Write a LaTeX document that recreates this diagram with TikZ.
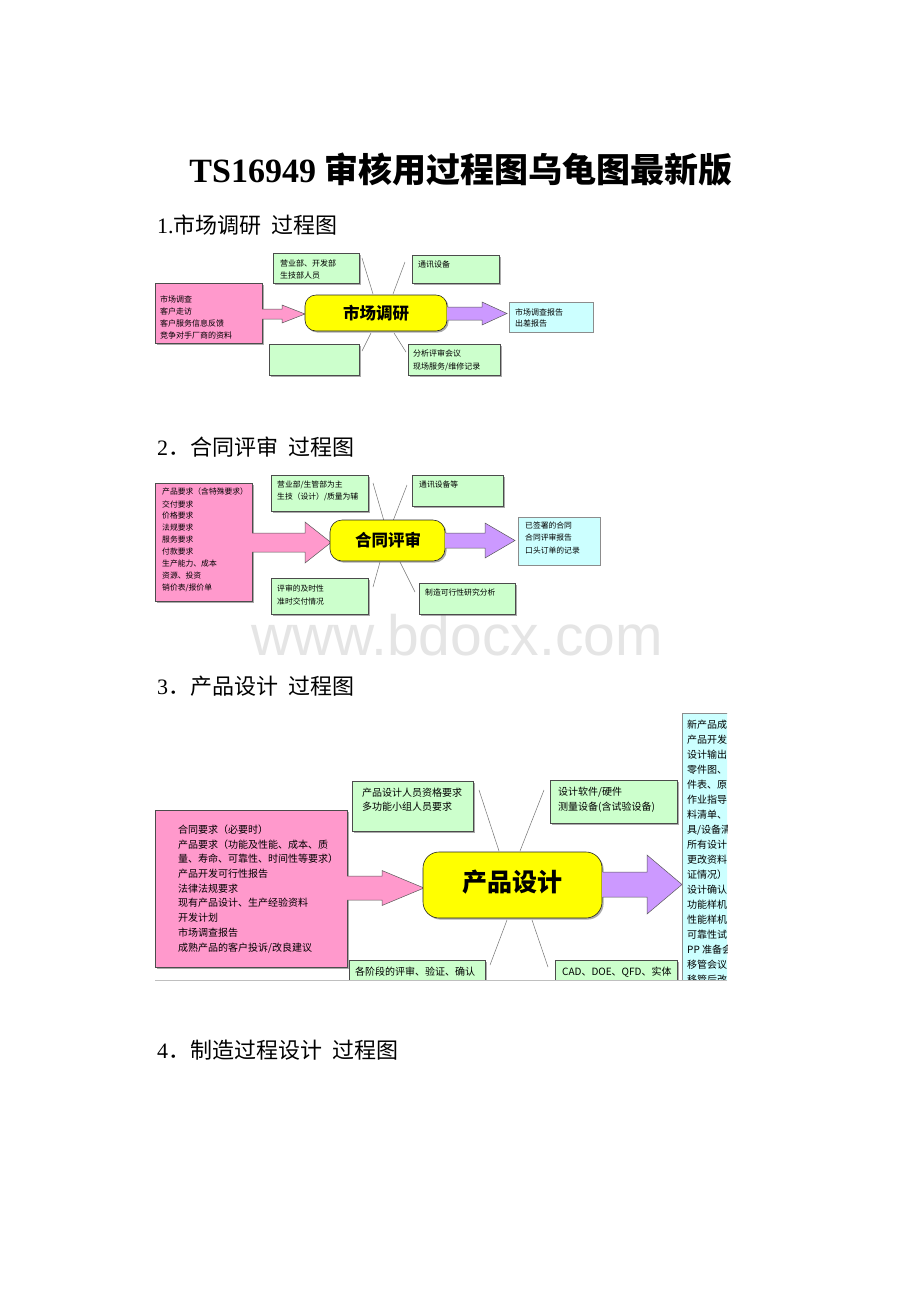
\documentclass[tikz,border=0pt]{standalone}
\usepackage{fontspec}
\setmainfont{Liberation Serif}
\newfontfamily\cjk{Noto Sans CJK SC}
\newfontfamily\wmfont{Liberation Sans}
\usetikzlibrary{shadows}
\definecolor{pinkf}{HTML}{FF99CC}
\definecolor{greenf}{HTML}{CCFFCC}
\definecolor{cyanf}{HTML}{CCFFFF}
\definecolor{yellowf}{HTML}{FFFF00}
\definecolor{purplef}{HTML}{CC99FF}
\tikzset{
  box/.style={anchor=north west, inner sep=0pt, outer sep=0pt},
  shad/.style={drop shadow={shadow xshift=1.6pt, shadow yshift=-1.6pt, fill=black!65}},
  gbox/.style={box, draw=black!70, line width=0.5pt, fill=greenf, shad},
  pbox/.style={box, draw=black!70, line width=0.5pt, fill=pinkf, shad},
  cbox/.style={box, draw=black!45, line width=0.5pt, fill=cyanf},
  ybox/.style={box, draw=black!85, line width=0.6pt, fill=yellowf, rounded corners=#1, shad},
  t8/.style={anchor=west, inner sep=0pt, font=\cjk\fontsize{8}{10}\selectfont},
  t78/.style={anchor=west, inner sep=0pt, font=\cjk\fontsize{7.8}{10}\selectfont},
  t10/.style={anchor=west, inner sep=0pt, font=\cjk\fontsize{10}{12}\selectfont},
  ytxt/.style={inner sep=0pt, font=\cjk\bfseries\fontsize{#1}{#1}\selectfont},
  spoke/.style={draw=black!55, line width=0.5pt},
  aline/.style={draw=black!65, line width=0.5pt},
  head/.style={anchor=west, inner sep=0pt, font=\fontsize{22}{24}\selectfont}
}
\begin{document}
\begin{tikzpicture}[x=1pt,y=-1pt]
\useasboundingbox (0,0) rectangle (920,1302);
\fill[white] (0,0) rectangle (920,1302);

% watermark
\node[inner sep=0pt, text=black!10, font=\wmfont\fontsize{57}{60}\selectfont] (wm) at (457,635) {www.bdocx.com};

% title and headings
\node[inner sep=0pt, font=\fontsize{34}{36}\selectfont\bfseries] (title) at (461,170) {TS16949 {\cjk 审核用过程图乌龟图最新版}};
\node[head] (h1) at (157,225) {1.{\cjk 市场调研\hspace{0.45em}过程图}};
\node[head] (h2) at (157,447) {2{\cjk ．合同评审\hspace{0.45em}过程图}};
\node[head] (h3) at (157,686) {3{\cjk ．产品设计\hspace{0.45em}过程图}};
\node[head] (h4) at (157,1050) {4{\cjk ．制造过程设计\hspace{0.45em}过程图}};

% ================= Diagram 1 =================
\draw[spoke] (362,258) -- (373,294);
\draw[spoke] (405,262) -- (393,294);
\draw[spoke] (371,333) -- (362,351);
\draw[spoke] (394,333) -- (406,352);

\node[pbox, minimum width=107pt, minimum height=60pt] (p1) at (155,283) {};
\node[t8] (p1a) at (160,299) {市场调查};
\node[t8] (p1b) at (160,311) {客户走访};
\node[t8] (p1c) at (160,323) {客户服务信息反馈};
\node[t8] (p1d) at (160,335) {竞争对手厂商的资料};

\fill[pinkf] (261.5,309) -- (282,309) -- (282,305) -- (305,314) -- (282,323) -- (282,319) -- (261.5,319) -- cycle;
\draw[aline] (262,309) -- (282,309) -- (282,305) -- (305,314) -- (282,323) -- (282,319) -- (262,319);

\node[ybox=11pt, minimum width=142pt, minimum height=36pt] (y1) at (305,295) {};
\node[ytxt=16.5] (y1t) at (376,313) {市场调研};

\node[gbox, minimum width=86pt, minimum height=30pt] (g1a) at (273,253) {};
\node[t8] (g1at) at (280,263) {营业部、开发部};
\node[t8] (g1au) at (280,275) {生技部人员};
\node[gbox, minimum width=87pt, minimum height=28pt] (g1b) at (412,255) {};
\node[t8] (g1bt) at (418,265) {通讯设备};
\node[gbox, minimum width=90pt, minimum height=31pt] (g1c) at (269,344) {};
\node[gbox, minimum width=92pt, minimum height=31pt] (g1d) at (408,344) {};
\node[t8] (g1dt) at (413,353) {分析评审会议};
\node[t8] (g1du) at (413,367) {现场服务/维修记录};

\fill[purplef] (447,307) -- (482,307) -- (482,302) -- (507,313.5) -- (482,325) -- (482,320) -- (447,320) -- cycle;
\draw[aline] (447.5,307) -- (482,307) -- (482,302) -- (507,313.5) -- (482,325) -- (482,320) -- (447.5,320);

\node[cbox, minimum width=84pt, minimum height=30pt] (c1) at (509,302) {};
\node[t8] (c1a) at (515,312) {市场调查报告};
\node[t8] (c1b) at (515,323) {出差报告};

% ================= Diagram 2 =================
\draw[spoke] (373,483) -- (384,521);
\draw[spoke] (407,485) -- (393,521);
\draw[spoke] (380,562) -- (373,587);
\draw[spoke] (400,562) -- (415,592);

\node[pbox, minimum width=97pt, minimum height=118pt] (p2) at (155,483) {};
\node[t78] (p2a) at (162,492) {产品要求（含特殊要求）};
\node[t78] (p2b) at (162,504) {交付要求};
\node[t78] (p2c) at (162,516) {价格要求};
\node[t78] (p2d) at (162,528) {法规要求};
\node[t78] (p2e) at (162,540) {服务要求};
\node[t78] (p2f) at (162,552) {付款要求};
\node[t78] (p2g) at (162,564) {生产能力、成本};
\node[t78] (p2h) at (162,576) {资源、投资};
\node[t78] (p2i) at (162,588) {销价表/报价单};

\fill[pinkf] (251.5,533) -- (305,533) -- (305,522) -- (331,542.5) -- (305,563) -- (305,552) -- (251.5,552) -- cycle;
\draw[aline] (252,533) -- (305,533) -- (305,522) -- (331,542.5) -- (305,563) -- (305,552) -- (252,552);

\node[ybox=12pt, minimum width=115pt, minimum height=41pt] (y2) at (330,520) {};
\node[ytxt=16.5] (y2t) at (388,540) {合同评审};

\node[gbox, minimum width=97pt, minimum height=36pt] (g2a) at (271,475) {};
\node[t78] (g2at) at (277,485) {营业部/生管部为主};
\node[t78] (g2au) at (277,497) {生技（设计）/质量为辅};
\node[gbox, minimum width=91pt, minimum height=31pt] (g2b) at (412,475) {};
\node[t78] (g2bt) at (419,485) {通讯设备等};
\node[gbox, minimum width=97pt, minimum height=36pt] (g2c) at (271,578) {};
\node[t78] (g2ct) at (277,588) {评审的及时性};
\node[t78] (g2cu) at (277,601) {准时交付情况};
\node[gbox, minimum width=96pt, minimum height=31pt] (g2d) at (419,583) {};
\node[t78] (g2dt) at (425,593) {制造可行性研究分析};

\fill[purplef] (445,533) -- (485,533) -- (485,523) -- (515,540.5) -- (485,558) -- (485,548) -- (445,548) -- cycle;
\draw[aline] (445.5,533) -- (485,533) -- (485,523) -- (515,540.5) -- (485,558) -- (485,548) -- (445.5,548);

\node[cbox, minimum width=82pt, minimum height=48pt] (c2) at (518,517) {};
\node[t78] (c2a) at (525,526) {已签署的合同};
\node[t78] (c2b) at (525,538) {合同评审报告};
\node[t78] (c2c) at (525,551) {口头订单的记录};

% ================= Diagram 3 =================
\begin{scope}
\clip (150,705) rectangle (727,980);
\draw[spoke] (479,790) -- (499,851);
\draw[spoke] (544,790) -- (520,851);
\draw[spoke] (507,920) -- (490,965);
\draw[spoke] (532,920) -- (548,967);

\node[pbox, minimum width=192pt, minimum height=157pt] (p3) at (155,810) {};
\node[t10] (p3a) at (178,830) {合同要求（必要时）};
\node[t10] (p3b) at (178,845) {产品要求（功能及性能、成本、质};
\node[t10] (p3c) at (178,859) {量、寿命、可靠性、时间性等要求）};
\node[t10] (p3d) at (178,874) {产品开发可行性报告};
\node[t10] (p3e) at (178,889) {法律法规要求};
\node[t10] (p3f) at (178,903) {现有产品设计、生产经验资料};
\node[t10] (p3g) at (178,918) {开发计划};
\node[t10] (p3h) at (178,933) {市场调查报告};
\node[t10] (p3i) at (178,948) {成熟产品的客户投诉/改良建议};

\fill[pinkf] (346.5,876) -- (382,876) -- (382,870.5) -- (424,888) -- (382,905.5) -- (382,900) -- (346.5,900) -- cycle;
\draw[aline] (347,876) -- (382,876) -- (382,870.5) -- (424,888) -- (382,905.5) -- (382,900) -- (347,900);

\node[ybox=16pt, minimum width=179pt, minimum height=66pt] (y3) at (423,852) {};
\node[ytxt=25] (y3t) at (512,882) {产品设计};

\node[gbox, minimum width=121pt, minimum height=50pt] (g3a) at (352,781) {};
\node[t10] (g3at) at (362,793) {产品设计人员资格要求};
\node[t10] (g3au) at (362,807) {多功能小组人员要求};
\node[gbox, minimum width=127pt, minimum height=43pt] (g3b) at (550,780) {};
\node[t10] (g3bt) at (558,792) {设计软件/硬件};
\node[t10] (g3bu) at (558,807) {测量设备(含试验设备)};
\node[gbox, minimum width=136pt, minimum height=40pt] (g3c) at (349,960) {};
\node[t10] (g3ct) at (355,972) {各阶段的评审、验证、确认};
\node[gbox, minimum width=122pt, minimum height=40pt] (g3d) at (555,960) {};
\node[t10] (g3dt) at (562,972) {CAD、DOE、QFD、实体};

\fill[purplef] (602,872) -- (647,872) -- (647,855) -- (682,884.5) -- (647,914) -- (647,897) -- (602,897) -- cycle;
\draw[aline] (602.5,872) -- (647,872) -- (647,855) -- (682,884.5) -- (647,914) -- (647,897) -- (602.5,897);

\node[cbox, minimum width=80pt, minimum height=300pt] (c3) at (682,713) {};
\node[t10] (c3a) at (687,725) {新产品成};
\node[t10] (c3b) at (687,740) {产品开发};
\node[t10] (c3c) at (687,755) {设计输出};
\node[t10] (c3d) at (687,770) {零件图、};
\node[t10] (c3e) at (687,785) {件表、原};
\node[t10] (c3f) at (687,800) {作业指导};
\node[t10] (c3g) at (687,815) {料清单、};
\node[t10] (c3h) at (687,830) {具/设备清};
\node[t10] (c3i) at (687,845) {所有设计};
\node[t10] (c3j) at (687,860) {更改资料};
\node[t10] (c3k) at (687,875) {证情况）};
\node[t10] (c3l) at (687,890) {设计确认};
\node[t10] (c3m) at (687,905) {功能样机};
\node[t10] (c3n) at (687,920) {性能样机};
\node[t10] (c3o) at (687,935) {可靠性试};
\node[t10] (c3p) at (687,950) {PP 准备会};
\node[t10] (c3q) at (687,965) {移管会议};
\node[t10] (c3r) at (687,980) {移管后改};
\end{scope}
\draw[black!25, line width=0.6pt] (155,980) -- (727,980);
\end{tikzpicture}
\end{document}
